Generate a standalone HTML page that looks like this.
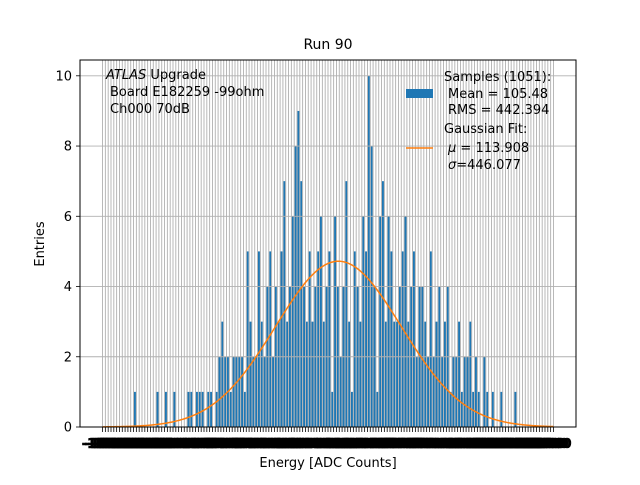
<!DOCTYPE html>
<html><head><meta charset="utf-8"><style>
body{margin:0;background:#fff}
svg text{font-family:"DejaVu Sans","Liberation Sans",sans-serif;fill:#000}
</style></head><body>
<svg id="chart" width="640" height="480" viewBox="0 0 640 480" xmlns="http://www.w3.org/2000/svg">
<rect width="640" height="480" fill="#fff"/>
<g id="bars"></g>
<g id="grid"></g>
<path id="fit" fill="none" stroke="#ff7f0e" stroke-width="1.5"/>
<rect x="80" y="60" width="496" height="367" fill="none" stroke="#000" stroke-width="1"/>
<g id="xticks"></g>
<g id="yticks"></g>
<text x="328" y="49" font-size="14" text-anchor="middle">Run 90</text>
<text x="328" y="467" font-size="13" text-anchor="middle">Energy [ADC Counts]</text>
<text transform="translate(44,244) rotate(-90)" font-size="13" text-anchor="middle">Entries</text>
<g font-size="13">
<text x="106" y="79"><tspan font-style="italic">ATLAS</tspan> Upgrade</text>
<text x="110" y="96">Board E182259 -99ohm</text>
<text x="110" y="113">Ch000 70dB</text>
</g>
<g font-size="13">
<rect x="406" y="89" width="27" height="9" fill="#1f77b4"/>
<text x="444" y="81">Samples (1051):</text>
<text x="448" y="98">Mean = 105.48</text>
<text x="448" y="114">RMS = 442.394</text>
<line x1="406" y1="148" x2="433" y2="148" stroke="#ff7f0e" stroke-width="1.5"/>
<text x="444" y="133">Gaussian Fit:</text>
<text x="448" y="152"><tspan font-style="italic">μ</tspan> = 113.908</text>
<text x="448" y="169"><tspan font-style="italic">σ</tspan>=446.077</text>
</g>
</svg>
<script>
const binStart = -1560;
const binWidth = 20;
const counts = [0,0,0,0,0,0,0,0,0,0,0,1,0,0,0,0,0,0,0,1,0,0,1,0,0,1,0,0,0,0,1,1,0,1,1,1,0,1,1,0,
1,2,3,2,2,1,2,2,2,2,1,5,3,2,2,5,3,2,4,5,2,4,3,5,7,3,4,6,8,9,
7,4,3,5,3,4,5,6,3,4,5,1,6,4,2,4,7,3,1,5,4,3,6,5,10,8,4,1,6,7,
3,6,5,3,3,4,5,6,3,4,5,2,4,4,3,2,5,2,3,4,2,3,4,1,2,2,3,1,2,2,
3,1,2,1,0,2,1,0,1,0,0,1,0,0,0,0,1,0,0,0,0,0,0,0,0,0,0,0,0,0];
const yTicks = [0,2,4,6,8,10];
const fitMu = 113.908;
const fitSigma = 446.077;
const fitAmp = 4.72;

const NS="http://www.w3.org/2000/svg";
const nb = counts.length;
const xMin = binStart - 0.05*nb*binWidth, xMax = binStart + nb*binWidth*1.05;
const X = v => 80 + (v - xMin)/(xMax - xMin)*496;
const Y = v => 427 - v/10.45*367;
function mk(tag, attrs, parent){const e=document.createElementNS(NS,tag);for(const k in attrs)e.setAttribute(k,attrs[k]);parent.appendChild(e);return e;}
const bars=document.getElementById('bars');
counts.forEach((c,i)=>{
  if(c<=0)return;
  const x0=X(binStart+i*binWidth), x1=X(binStart+(i+1)*binWidth);
  const w=(x1-x0)*0.7;
  const r=mk('rect',{x:x0+(x1-x0-w)/2,y:Y(c),width:w,height:Y(0)-Y(c),fill:'#1f77b4'},bars);
  
  
});
const grid=document.getElementById('grid');
const xt=document.getElementById('xticks');
for(let i=0;i<=nb;i++){
  const v=binStart+i*binWidth, x=X(v);
  mk('line',{x1:x,y1:60,x2:x,y2:427,stroke:'#b0b0b0','stroke-width':0.9},grid);
  mk('line',{x1:x,y1:427,x2:x,y2:432,stroke:'#000','stroke-width':0.8},xt);
  const t=mk('text',{x:x,y:448,'font-size':13,'font-weight':'bold','stroke':'#000','stroke-width':0.6,'text-anchor':'middle'},xt);
  t.textContent=String(v);
}
const yt=document.getElementById('yticks');
yTicks.forEach(v=>{
  const y=Y(v);
  mk('line',{x1:80,y1:y,x2:576,y2:y,stroke:'#b0b0b0','stroke-width':0.9},grid);
  mk('line',{x1:76,y1:y,x2:80,y2:y,stroke:'#000','stroke-width':0.8},yt);
  const t=mk('text',{x:72,y:y+4.5,'font-size':13,'text-anchor':'end'},yt);
  t.textContent=String(v);
});
let d='';
for(let i=0;i<=300;i++){
  const v=binStart+(nb*binWidth)*i/300;
  const g=fitAmp*Math.exp(-0.5*Math.pow((v-fitMu)/fitSigma,2));
  d+=(i?'L':'M')+X(v).toFixed(2)+','+Y(g).toFixed(2);
}
document.getElementById('fit').setAttribute('d',d);
</script>
</body></html>
